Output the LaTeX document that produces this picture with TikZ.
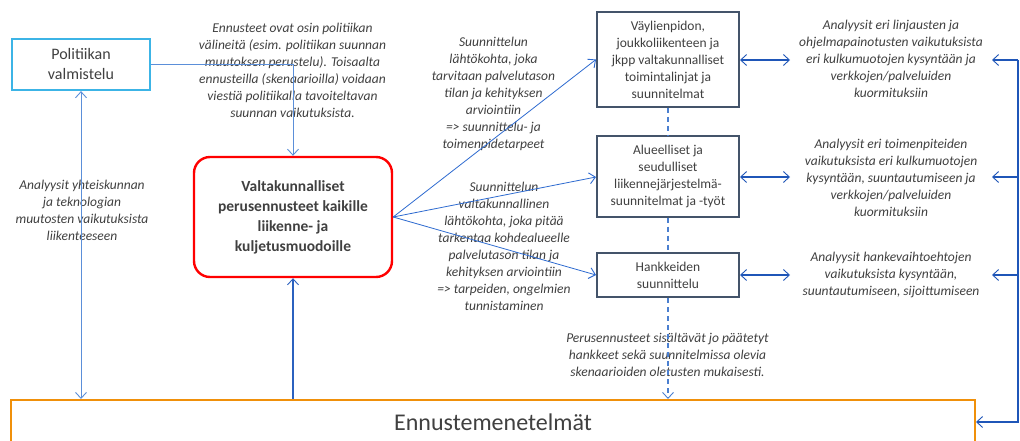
\documentclass[tikz,border=0pt]{standalone}
\usepackage{fontspec}
\setmainfont{Carlito}
\usetikzlibrary{arrows.meta,positioning}

\definecolor{txtgray}{HTML}{404040}
\definecolor{slate}{HTML}{44546A}
\definecolor{skyline}{HTML}{3CB4E6}
\definecolor{softblue}{HTML}{5B8FD9}
\definecolor{fanblue}{HTML}{2E6BD0}
\definecolor{deepblue}{HTML}{1F56B8}
\definecolor{dashblue}{HTML}{4A7FD0}
\definecolor{orangeline}{HTML}{F0900A}
\definecolor{redline}{HTML}{FF0000}

\tikzset{
  >={Straight Barb[length=6pt,width=11pt,line width=0.9pt]},
  note/.style={text=txtgray, align=center, inner sep=0pt,
    font=\fontsize{13.5}{17}\selectfont\itshape},
  planbox/.style={draw=slate, line width=2pt, fill=white, align=center,
    text=txtgray, inner sep=0pt, font=\fontsize{13.5}{17}\selectfont},
  fan/.style={draw=fanblue, line width=0.8pt, ->},
  softline/.style={draw=softblue, line width=1pt},
  railline/.style={draw=deepblue, line width=1.3pt},
  dashlink/.style={draw=dashblue, line width=1.5pt, dash pattern=on 5pt off 4pt},
}

\begin{document}
\begin{tikzpicture}[x=1pt,y=-1pt]
\useasboundingbox (0,0) rectangle (1020,441);
\clip (0,0) rectangle (1020,441);
\fill[white] (0,0) rectangle (1020,441);

% main boxes
\node[draw=skyline, line width=2.2pt, fill=white, text=txtgray, align=center,
  minimum width=138pt, minimum height=51pt, inner sep=0pt,
  font=\fontsize{16}{20}\selectfont] (pol) at (81,64.5) {Politiikan\\valmistelu};

\node[draw=redline, line width=2.4pt, rounded corners=16pt, fill=white,
  text=txtgray, align=center, minimum width=198pt, minimum height=120pt,
  inner sep=0pt, font=\fontsize{15.5}{20}\selectfont\bfseries] (base) at (293,217)
  {Valtakunnalliset\\perusennusteet kaikille\\liikenne- ja\\kuljetusmuodoille};

\node[draw=orangeline, line width=2pt, fill=white, text=txtgray,
  minimum width=964pt, minimum height=44pt, inner sep=0pt,
  font=\fontsize{24}{28}\selectfont] (enn) at (493,422) {Ennustemenetelmät};

\node[planbox, minimum width=142pt, minimum height=95pt] (plan1) at (668,59.5)
  {Väylienpidon,\\joukkoliikenteen ja\\jkpp valtakunnalliset\\toimintalinjat ja\\suunnitelmat};
\node[planbox, minimum width=142pt, minimum height=80pt] (plan2) at (668,176.5)
  {Alueelliset ja\\seudulliset\\liikennejärjestelmä-\\suunnitelmat ja -työt};
\node[planbox, minimum width=142pt, minimum height=44pt] (plan3) at (668,275)
  {Hankkeiden\\suunnittelu};

% explanatory texts
\node[note] (noteTools) at (292.5,70.5)
  {Ennusteet ovat osin politiikan\\välineitä (esim. politiikan suunnan\\muutoksen perustelu). Toisaalta\\ennusteilla (skenaarioilla) voidaan\\viestiä politiikalla tavoiteltavan\\suunnan vaikutuksista.};
\node[note] (noteSociety) at (82,210.5)
  {Analyysit yhteiskunnan\\ja teknologian\\muutosten vaikutuksista\\liikenteeseen};
\node[note] (noteStart) at (493.5,93.5)
  {Suunnittelun\\lähtökohta, joka\\tarvitaan palvelutason\\tilan ja kehityksen\\arviointiin\\=> suunnittelu- ja\\toimenpidetarpeet};
\node[note] (noteRegion) at (504,246.5)
  {Suunnittelun\\valtakunnallinen\\lähtökohta, joka pitää\\tarkentaa kohdealueelle\\palvelutason tilan ja\\kehityksen arviointiin\\=> tarpeiden, ongelmien\\tunnistaminen};
\node[note] (noteBase) at (667.5,355)
  {Perusennusteet sisältävät jo päätetyt\\hankkeet sekä suunnitelmissa olevia\\skenaarioiden oletusten mukaisesti.};
\node[note] (noteA) at (891,59)
  {Analyysit eri linjausten ja\\ohjelmapainotusten vaikutuksista\\eri kulkumuotojen kysyntään ja\\verkkojen/palveluiden\\kuormituksiin};
\node[note] (noteB) at (891,178)
  {Analyysit eri toimenpiteiden\\vaikutuksista eri kulkumuotojen\\kysyntään, suuntautumiseen ja\\verkkojen/palveluiden\\kuormituksiin};
\node[note] (noteC) at (891,275)
  {Analyysit hankevaihtoehtojen\\vaikutuksista kysyntään,\\suuntautumiseen, sijoittumiseen};

% arrow end points beside the analysis texts and the return rail
\coordinate (aIn)  at (790,60);
\coordinate (bIn)  at (790,177);
\coordinate (cIn)  at (790,275);
\coordinate (aOut) at (992,60);
\coordinate (bOut) at (992,177);
\coordinate (cOut) at (992,275);
\coordinate (rail) at (1018,60);

% policy links
\draw[softline, ->] (pol.east) -| (base.north);
\draw[softline, <->] (pol.south) -- (pol.south |- enn.north);
\draw[railline, draw=deepblue!80!softblue, ->] (enn.north -| base.south) -- (base.south);

% fan from the base forecasts to the planning levels
\draw[fan] (base.east) -- (plan1.west);
\draw[fan] (base.east) -- (plan2.west |- bIn);
\draw[fan] (base.east) -- (plan3.west);

% dashed chain between planning levels
\draw[dashlink] (plan1.south) -- (plan2.north);
\draw[dashlink] (plan2.south) -- (plan3.north);
\draw[dashlink, ->] (plan3.south) -- (plan3.south |- enn.north);

% analyses linked to the planning levels
\draw[railline, <->] (plan1.east |- aIn) -- (aIn);
\draw[railline, <->] (plan2.east |- bIn) -- (bIn);
\draw[railline, <->] (plan3.east |- cIn) -- (cIn);

% return rail to the forecasting methods
\draw[railline, ->] (rail) |- (enn.east);
\draw[railline, ->] (rail) -- (aOut);
\draw[railline, ->] (rail |- bOut) -- (bOut);
\draw[railline, ->] (rail |- cOut) -- (cOut);
\end{tikzpicture}
\end{document}
